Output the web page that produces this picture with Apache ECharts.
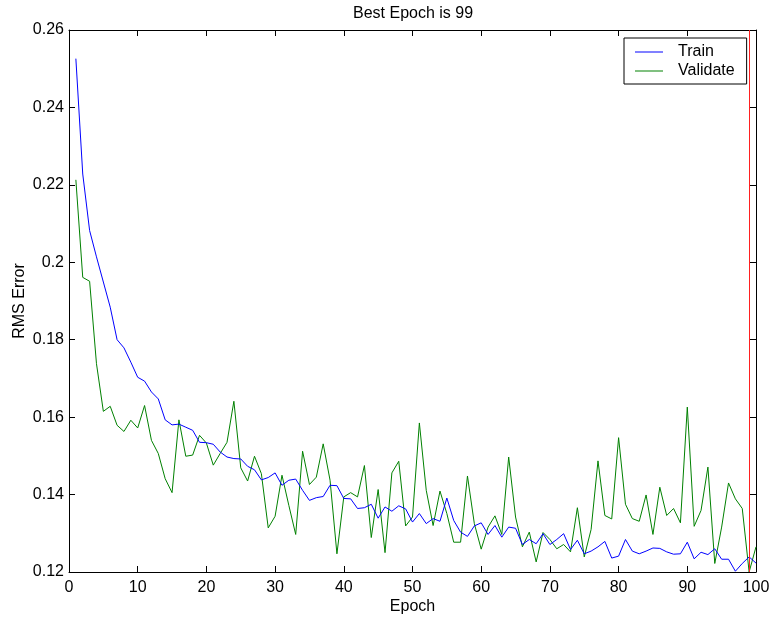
<!DOCTYPE html>
<html>
<head>
<meta charset="utf-8">
<title>Best Epoch</title>
<script src="https://cdn.jsdelivr.net/npm/echarts@6/dist/echarts.min.js"></script>
<style>
  html, body { margin: 0; padding: 0; background: #fff; }
  #main { width: 772px; height: 617px; }
</style>
</head>
<body>
<div id="main"></div>
<script>
// values
var bestEpoch = 99;
var seriesNames = ['Train', 'Validate'];
var xTicks = { min: 0, max: 100, step: 10 };
var yTicks = { min: 0.12, max: 0.26, step: 0.02 };

var train = [
  0.2526, 0.2228, 0.2082, 0.2014, 0.1949, 0.1884, 0.1800, 0.1779, 0.1742, 0.1703,
  0.1693, 0.1665, 0.1647, 0.1593, 0.1580, 0.1582, 0.1574, 0.1566, 0.1535, 0.1534,
  0.1530, 0.1510, 0.1497, 0.1493, 0.1492, 0.1473, 0.1464, 0.1438, 0.1444, 0.1456,
  0.1424, 0.1437, 0.1440, 0.1411, 0.1385, 0.1392, 0.1395, 0.1424, 0.1423, 0.1390,
  0.1389, 0.1364, 0.1366, 0.1375, 0.1339, 0.1368, 0.1357, 0.1371, 0.1363, 0.1329,
  0.1351, 0.1325, 0.1338, 0.1331, 0.1391, 0.1333, 0.1303, 0.1292, 0.1319, 0.1327,
  0.1297, 0.1320, 0.1290, 0.1316, 0.1313, 0.1271, 0.1284, 0.1273, 0.1299, 0.1271,
  0.1284, 0.1299, 0.1258, 0.1282, 0.1247, 0.1254, 0.1265, 0.1279, 0.1236, 0.1241,
  0.1284, 0.1254, 0.1247, 0.1254, 0.1262, 0.1261, 0.1252, 0.1246, 0.1247, 0.1277,
  0.1234, 0.1251, 0.1245, 0.1260, 0.1233, 0.1233, 0.1202, 0.1222, 0.1239, 0.1223
];

var validate = [
  0.2213, 0.1961, 0.1951, 0.1738, 0.1615, 0.1628, 0.1579, 0.1563, 0.1592, 0.1572,
  0.1630, 0.1540, 0.1506, 0.1441, 0.1405, 0.1593, 0.1499, 0.1502, 0.1553, 0.1533,
  0.1476, 0.1506, 0.1535, 0.1641, 0.1469, 0.1435, 0.1499, 0.1454, 0.1314, 0.1344,
  0.1450, 0.1372, 0.1297, 0.1512, 0.1426, 0.1445, 0.1531, 0.1437, 0.1247, 0.1394,
  0.1405, 0.1394, 0.1475, 0.1289, 0.1413, 0.1250, 0.1456, 0.1486, 0.1319, 0.1342,
  0.1585, 0.1411, 0.1320, 0.1409, 0.1351, 0.1277, 0.1277, 0.1448, 0.1325, 0.1259,
  0.1316, 0.1345, 0.1297, 0.1497, 0.1342, 0.1265, 0.1303, 0.1226, 0.1302, 0.1284,
  0.1260, 0.1271, 0.1252, 0.1366, 0.1239, 0.1310, 0.1487, 0.1346, 0.1337, 0.1547,
  0.1375, 0.1338, 0.1331, 0.1399, 0.1297, 0.1419, 0.1346, 0.1364, 0.1327, 0.1626,
  0.1318, 0.1359, 0.1471, 0.1222, 0.1316, 0.1430, 0.1389, 0.1364, 0.1200, 0.1265
];

// epoch number = position in the list (1..100)
function withEpoch(arr) {
  return arr.map(function (v, i) { return [i + 1, v]; });
}

var font = 'Liberation Sans, Arial, Helvetica, sans-serif';

function xAxisCfg(pos, showLabels) {
  return {
    type: 'value', position: pos,
    min: xTicks.min, max: xTicks.max, interval: xTicks.step,
    axisLine: { show: true, onZero: false, lineStyle: { color: '#000', width: 1 } },
    axisTick: { show: true, inside: true, length: 6, lineStyle: { color: '#000' } },
    axisLabel: { show: showLabels, color: '#000', fontSize: 16, fontFamily: font, margin: 8 },
    splitLine: { show: false }
  };
}
function yAxisCfg(pos, showLabels) {
  return {
    type: 'value', position: pos,
    min: yTicks.min, max: yTicks.max, interval: yTicks.step,
    axisLine: { show: true, onZero: false, lineStyle: { color: '#000', width: 1 } },
    axisTick: { show: true, inside: true, length: 6, lineStyle: { color: '#000' } },
    axisLabel: {
      show: showLabels, color: '#000', fontSize: 16, fontFamily: font, margin: 5,
      formatter: function (v) { return String(+v.toFixed(2)); }
    },
    splitLine: { show: false }
  };
}

var xBottom = xAxisCfg('bottom', true);
xBottom.name = 'Epoch';
xBottom.nameLocation = 'middle';
xBottom.nameGap = 27;
xBottom.nameMoveOverlap = false;
xBottom.nameTextStyle = { color: '#000', fontSize: 16, fontFamily: font };

var yLeft = yAxisCfg('left', true);
yLeft.name = 'RMS Error';
yLeft.nameLocation = 'middle';
yLeft.nameGap = 41;
yLeft.nameMoveOverlap = false;
yLeft.nameTextStyle = { color: '#000', fontSize: 16, fontFamily: font };

var chart = echarts.init(document.getElementById('main'), null, { renderer: 'canvas' });
chart.setOption({
  animation: false,
  backgroundColor: '#fff',
  title: {
    text: 'Best Epoch is ' + bestEpoch,
    left: 353, top: 6, padding: 0,
    textStyle: { color: '#000', fontSize: 16, fontWeight: 'normal', fontFamily: font }
  },
  legend: {
    data: seriesNames,
    orient: 'vertical',
    left: 624, top: 38,
    padding: [6, 12, 5, 11],
    itemGap: 3,
    icon: 'rect',
    itemWidth: 28,
    itemHeight: 1,
    borderColor: '#000', borderWidth: 1, borderRadius: 0,
    backgroundColor: '#fff',
    textStyle: { color: '#000', fontSize: 16, fontFamily: font, padding: [0, 0, 0, 10] }
  },
  grid: { left: 69, right: 16, top: 30, bottom: 45, containLabel: false, outerBoundsMode: 'none' },
  xAxis: [xBottom, xAxisCfg('top', false)],
  yAxis: [yLeft, yAxisCfg('right', false)],
  series: [
    {
      name: seriesNames[0], type: 'line', data: withEpoch(train),
      symbol: 'none', showSymbol: false,
      itemStyle: { color: '#0000ff' },
      lineStyle: { color: '#0000ff', width: 1 },
      z: 3
    },
    {
      name: seriesNames[1], type: 'line', data: withEpoch(validate),
      symbol: 'none', showSymbol: false,
      itemStyle: { color: '#008000' },
      lineStyle: { color: '#008000', width: 1 },
      z: 2,
      markLine: {
        silent: true, symbol: ['none', 'none'],
        label: { show: false },
        lineStyle: { color: '#ff2020', width: 1, type: 'solid' },
        data: [{ xAxis: bestEpoch }]
      }
    }
  ]
});
</script>
</body>
</html>
